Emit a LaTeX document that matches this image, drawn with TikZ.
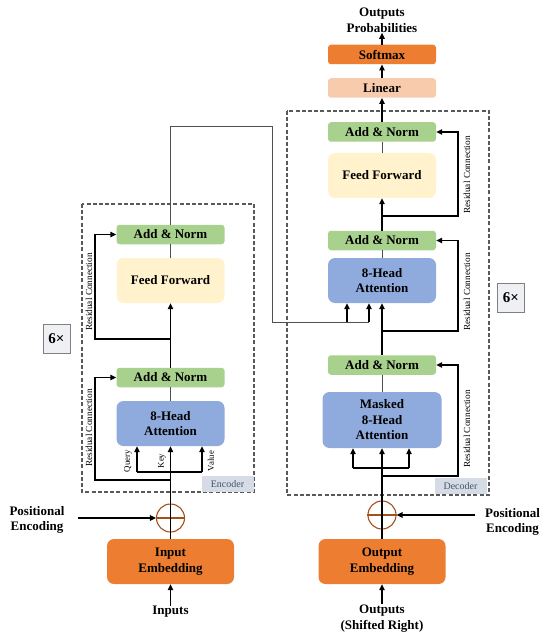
\documentclass[tikz,border=0pt]{standalone}
\usepackage{fontspec}
\setmainfont{Liberation Serif}
\usetikzlibrary{arrows.meta}
\definecolor{cgreen}{HTML}{A9D18E}
\definecolor{cyellow}{HTML}{FFF2CC}
\definecolor{cblue}{HTML}{8FAADC}
\definecolor{corange}{HTML}{ED7D31}
\definecolor{clin}{HTML}{F8CBAD}
\definecolor{ctag}{HTML}{D6DCE5}
\definecolor{ctagtext}{HTML}{44546A}
\definecolor{cbrown}{HTML}{A5501C}
\definecolor{cdash}{HTML}{595959}
\definecolor{cthin}{HTML}{505050}
\definecolor{crep}{HTML}{EEF0F4}
\begin{document}
\begin{tikzpicture}[x=1pt,y=-1pt,
  blk/.style={rectangle, inner sep=0pt, align=center, text=black,
    font=\fontsize{13}{15.5}\selectfont\bfseries},
  anbox/.style={blk, fill=cgreen, rounded corners=3pt, minimum width=108pt, minimum height=19.5pt},
  ffbox/.style={blk, fill=cyellow, rounded corners=7pt, minimum width=108pt, minimum height=45pt},
  attbox/.style={blk, fill=cblue, rounded corners=7pt, minimum width=108pt, minimum height=45pt},
  embbox/.style={blk, fill=corange, rounded corners=7pt, minimum width=127pt, minimum height=45pt},
  linbox/.style={blk, fill=clin, rounded corners=3pt, minimum width=108pt, minimum height=19.5pt},
  smbox/.style={blk, fill=corange, rounded corners=3pt, minimum width=108pt, minimum height=19.5pt},
  plain/.style={blk, fill=none},
  rlab/.style={inner sep=0pt, rotate=90, font=\fontsize{9.3}{10}\selectfont},
  qlab/.style={inner sep=0pt, rotate=90, font=\fontsize{8.8}{10}\selectfont},
  tag/.style={rectangle, fill=ctag, inner sep=0pt, minimum width=52pt, minimum height=16pt,
    text=ctagtext, font=\fontsize{10}{11}\selectfont},
  rep/.style={rectangle, draw=gray, fill=crep, line width=0.8pt, inner sep=0pt,
    minimum width=27pt, minimum height=29pt, font=\fontsize{15}{17}\selectfont\bfseries},
  dbox/.style={draw=cdash, line width=1.6pt, dash pattern=on 4pt off 2.2pt},
  arr/.style={line width=1.2pt, -{Triangle[length=6pt,width=5.5pt]}},
  ln/.style={line width=1.2pt},
  thin/.style={line width=0.8pt, draw=cthin},
  plus/.style={circle, draw=cbrown, line width=1.1pt, minimum size=28pt, inner sep=0pt}
]
\useasboundingbox (0,0) rectangle (550,636);

% dashed containers
\draw[dbox] (82,204) rectangle (254,492);
\draw[dbox] (287,111) rectangle (489,495);
\node[tag] (etag) at (227.5,484) {Encoder};
\node[tag] (dtag) at (460.5,486) {Decoder};

% encoder
\node[anbox] (eAN2) at (170.5,234.5) {Add \& Norm};
\node[ffbox] (eFF) at (170.5,280.5) {Feed Forward};
\node[anbox] (eAN1) at (170.5,377.5) {Add \& Norm};
\node[attbox] (eATT) at (170.5,423.5) {8-Head\\Attention};
\node[embbox] (eEMB) at (170.5,561.5) {Input\\Embedding};
\node[plus] (ePL) at (170.5,518) {};
\node[plain] (eIN) at (170.5,612) {Inputs};
\node[plain] (ePE) at (37,520) {Positional\\Encoding};
\node[rep] (eREP) at (56.5,338.5) {6×};

% decoder
\node[anbox] (dAN3) at (382,132) {Add \& Norm};
\node[ffbox] (dFF) at (382,175.5) {Feed Forward};
\node[anbox] (dAN2) at (382,240.5) {Add \& Norm};
\node[attbox] (dATT) at (382,280.5) {8-Head\\Attention};
\node[anbox] (dAN1) at (382,365) {Add \& Norm};
\node[attbox, minimum width=119pt, minimum height=56pt] (dMATT) at (382,420) {Masked\\8-Head\\Attention};
\node[embbox] (dEMB) at (382,561.5) {Output\\Embedding};
\node[plus] (dPL) at (382,515) {};
\node[plain] (dOUT) at (382,618.5) {Outputs\\(Shifted Right)};
\node[plain] (dPE) at (512.5,522) {Positional\\Encoding};
\node[rep] (dREP) at (511,297.5) {6×};
\node[linbox] (LIN) at (382,88) {Linear};
\node[smbox] (SM) at (382,54.5) {Softmax};
\node[plain] (PROB) at (382,20.5) {Outputs\\Probabilities};

% residual labels
\node[rlab] (erl1) at (89,428) {Residual Connection};
\node[rlab] (erl2) at (89,292) {Residual Connection};
\node[rlab] (drl1) at (467,429) {Residual Connection};
\node[rlab] (drl2) at (467,292) {Residual Connection};
\node[rlab] (drl3) at (467,175) {Residual Connection};

% Q K V labels
\node[qlab] (qQ) at (128,461) {Query};
\node[qlab] (qK) at (162,461) {Key};
\node[qlab] (qV) at (211,461) {Value};

% plus circle crosses
\draw[cbrown, line width=1.1pt] (ePL.west) -- (ePL.east);
\draw[cbrown, line width=1.1pt] (dPL.west) -- (dPL.east);
\draw[ln] (ePL.south) -- (ePL.north);
\draw[ln] (dPL.south) -- (dPL.north);

% encoder connections
\draw[arr] (eIN.north) -- (eEMB.south);
\draw[ln] (eEMB.north) -- (ePL.south);
\coordinate (peLs) at (78,518);
\draw[arr] (peLs) -- (ePL.west);
\draw[arr] (ePL.north) -- (eATT.south);
\coordinate (eq) at (137,472);
\coordinate (ev) at (202,472);
\draw[ln] (eq) -- (ev);
\draw[arr] (eq) -- (eq |- eATT.south);
\draw[arr] (ev) -- (ev |- eATT.south);
\coordinate (er1) at (170.5,480);
\draw[arr] (er1) -- (95,480) |- (eAN1.west);
\draw[thin] (eATT.north) -- (eAN1.south);
\draw[arr] (eAN1.north) -- (eFF.south);
\coordinate (er2) at (170.5,339);
\draw[arr] (er2) -- (95,339) |- (eAN2.west);
\draw[thin] (eFF.north) -- (eAN2.south);

% encoder to decoder cross connection
\coordinate (c1) at (170.5,126);
\coordinate (c2) at (272,322);
\coordinate (c3) at (369,322);
\coordinate (c4) at (347,322);
\draw[thin] (eAN2.north) -- (c1) -| (c2) -- (c3);
\draw[arr] (c4) -- (c4 |- dATT.south);
\draw[arr] (c3) -- (c3 |- dATT.south);

% decoder connections
\draw[arr] (dOUT.north) ++(0,-1) -- (dEMB.south);
\draw[ln] (dEMB.north) -- (dPL.south);
\coordinate (peRs) at (475,515);
\draw[arr] (peRs) -- (dPL.east);
\draw[arr] (dPL.north) -- (dMATT.south);
\coordinate (dq) at (353,468);
\coordinate (dv) at (409,468);
\draw[ln] (dq) -- (dv);
\draw[arr] (dq) -- (dq |- dMATT.south);
\draw[arr] (dv) -- (dv |- dMATT.south);
\coordinate (dr1) at (382,476);
\draw[arr] (dr1) -- (458,476) |- (dAN1.east);
\draw[thin] (dMATT.north) -- (dAN1.south);
\draw[arr] (dAN1.north) -- (dATT.south);
\coordinate (dr2) at (382,331);
\draw[arr] (dr2) -- (458,331) |- (dAN2.east);
\draw[thin] (dATT.north) -- (dAN2.south);
\draw[arr] (dAN2.north) -- (dFF.south);
\coordinate (dr3) at (382,216);
\draw[arr] (dr3) -- (458,216) |- (dAN3.east);
\draw[thin] (dFF.north) -- (dAN3.south);
\draw[arr] (dAN3.north) -- (LIN.south);
\draw[arr] (LIN.north) -- (SM.south);
\draw[arr] (SM.north) -- (PROB.south);
\end{tikzpicture}
\end{document}
